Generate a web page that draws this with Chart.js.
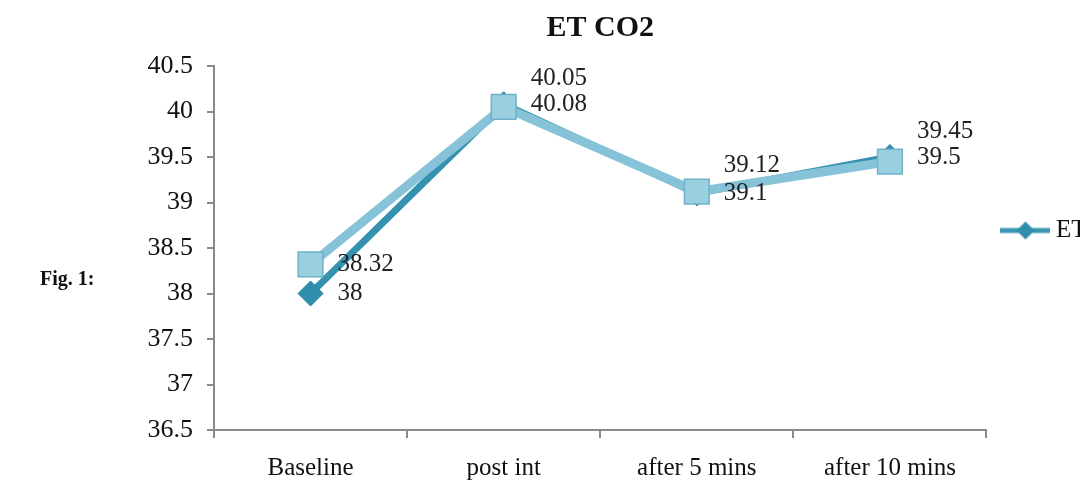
<!DOCTYPE html>
<html>
<head>
<meta charset="utf-8">
<script src="https://cdn.jsdelivr.net/npm/chart.js@4.4.1/dist/chart.umd.min.js"></script>
<style>
    html, body { margin: 0; padding: 0; background: #fff; width: 1080px; height: 485px; overflow: hidden; }
    #wrap { position: absolute; left: 0; top: 0; width: 1080px; height: 485px; overflow: hidden; }
    #fig { position: absolute; left: 40px; top: 267px; font: bold 20px "Liberation Serif", serif; color: #111; }
    canvas { position: absolute; left: 0; top: 0; }
</style>
</head>
<body>
<div id="wrap">
    <canvas id="chart" width="1150" height="485"></canvas>
    <div id="fig">Fig. 1:</div>
</div>
<script>
// Données du graphique
const categories = ["Baseline", "post int", "after 5 mins", "after 10 mins"];
const etco2Values = [38, 40.08, 39.1, 39.5];        // série losanges (légende "ET CO2")
const secondValues = [38.32, 40.05, 39.12, 39.45];  // série carrés
const legendText = "ET CO2";
const chartTitle = "ET CO2";

const serif = '"Liberation Serif", "Times New Roman", serif';

// Petite image pour la légende : trait + losange
function legendSymbol() {
    const c = document.createElement("canvas");
    c.width = 50;
    c.height = 20;
    const g = c.getContext("2d");
    g.strokeStyle = "#3A97B1";
    g.lineWidth = 5;
    g.beginPath();
    g.moveTo(0, 10);
    g.lineTo(50, 10);
    g.stroke();
    g.fillStyle = "#2F8EAA";
    g.beginPath();
    g.moveTo(25, 1);
    g.lineTo(34, 10);
    g.lineTo(25, 19);
    g.lineTo(16, 10);
    g.closePath();
    g.fill();
    return c;
}

// Plugin pour écrire les valeurs à droite des points
const valueLabels = {
    id: "valueLabels",
    afterDatasetsDraw(chart) {
        const ctx = chart.ctx;
        const main = chart.getDatasetMeta(0);
        const other = chart.getDatasetMeta(1);
        ctx.save();
        ctx.font = "25px " + serif;
        ctx.fillStyle = "#222";
        ctx.textAlign = "left";
        ctx.textBaseline = "middle";
        const usedY = [];
        main.data.forEach((pt, i) => {
            ctx.fillText(String(etco2Values[i]), pt.x + 27, pt.y);
            usedY.push(pt.y);
        });
        other.data.forEach((pt, i) => {
            let y = pt.y;
            if (Math.abs(y - usedY[i]) < 24) {
                y = Math.min(y, usedY[i]) - 26; // éviter le chevauchement
            }
            ctx.fillText(String(secondValues[i]), pt.x + 27, y);
        });
        ctx.restore();
    }
};

const ctx = document.getElementById("chart").getContext("2d");

new Chart(ctx, {
    type: "line",
    data: {
        labels: categories,
        datasets: [
            {
                label: legendText,
                data: etco2Values,
                order: 1,
                borderColor: "#3492AE",
                borderWidth: 7,
                pointStyle: "rectRot",
                pointRadius: 12.5,
                pointBackgroundColor: "#2F8EAA",
                pointBorderColor: "#2A84A0",
                pointBorderWidth: 1,
                tension: 0
            },
            {
                label: "",
                data: secondValues,
                order: 0,
                borderColor: "#86C3D8",
                borderWidth: 9,
                pointStyle: "rect",
                pointRadius: 17.5,
                pointBackgroundColor: "#9ACFE0",
                pointBorderColor: "#6FB2C9",
                pointBorderWidth: 1.5,
                tension: 0
            }
        ]
    },
    options: {
        responsive: false,
        animation: false,
        layout: {
            padding: 0
        },
        plugins: {
            title: {
                display: true,
                fullSize: false,
                text: chartTitle,
                color: "#111",
                font: { family: serif, size: 30, weight: "bold" },
                padding: { top: 10, bottom: 20 }
            },
            legend: {
                position: "right",
                align: "start",
                title: {
                    display: true,
                    text: "",
                    font: { size: 10 },
                    padding: { top: 185, bottom: 0 }
                },
                labels: {
                    usePointStyle: true,
                    pointStyleWidth: 36,
                    padding: 21,
                    color: "#111",
                    font: { family: serif, size: 25 },
                    generateLabels: () => [{
                        text: legendText,
                        fontColor: "#111",
                        pointStyle: legendSymbol(),
                        fillStyle: "#2F8EAA",
                        strokeStyle: "#2F8EAA",
                        lineWidth: 0,
                        hidden: false,
                        datasetIndex: 0
                    }]
                }
            },
            tooltip: { enabled: false }
        },
        scales: {
            x: {
                offset: true,
                afterFit: (scale) => { scale.height = 55; },
                grid: {
                    offset: true,
                    drawOnChartArea: false,
                    drawTicks: true,
                    tickLength: 8,
                    color: "#8a8a8a",
                    lineWidth: 2
                },
                border: { color: "#8a8a8a", width: 2 },
                ticks: {
                    color: "#111",
                    padding: 15,
                    font: { family: serif, size: 25 }
                }
            },
            y: {
                min: 36.5,
                max: 40.5,
                afterFit: (scale) => { scale.width = 214; },
                grid: {
                    drawOnChartArea: false,
                    drawTicks: true,
                    tickLength: 7,
                    color: "#8a8a8a",
                    lineWidth: 2
                },
                border: { color: "#8a8a8a", width: 2 },
                ticks: {
                    stepSize: 0.5,
                    color: "#111",
                    padding: 14,
                    font: { family: serif, size: 26 },
                    callback: (v) => String(parseFloat(Number(v).toFixed(2)))
                }
            }
        }
    },
    plugins: [valueLabels]
});
</script>
</body>
</html>
